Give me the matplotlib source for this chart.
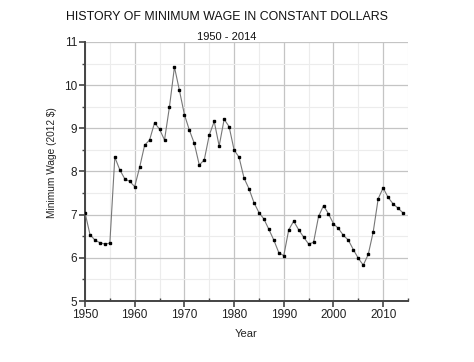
import matplotlib
matplotlib.use("Agg")
import matplotlib.pyplot as plt
from matplotlib.ticker import MultipleLocator

years = list(range(1950, 2015))
wage = [7.05, 6.54, 6.41, 6.35, 6.32, 6.34, 8.33, 8.04, 7.83, 7.77,
        7.65, 8.10, 8.61, 8.73, 9.13, 8.98, 8.73, 9.50, 10.42, 9.88,
        9.32, 8.96, 8.65, 8.15, 8.27, 8.84, 9.16, 8.59, 9.21, 9.04,
        8.50, 8.33, 7.85, 7.60, 7.28, 7.05, 6.90, 6.66, 6.41, 6.12,
        6.05, 6.65, 6.85, 6.65, 6.48, 6.32, 6.36, 6.96, 7.21, 7.02,
        6.79, 6.68, 6.52, 6.41, 6.19, 5.99, 5.83, 6.08, 6.60, 7.37,
        7.62, 7.40, 7.25, 7.15, 7.04]

title = "HISTORY OF MINIMUM WAGE IN CONSTANT DOLLARS"
subtitle = "1950 - 2014"
xlabel = "Year"
ylabel = "Minimum Wage (2012 $)"

plt.rcParams['font.family'] = ['Liberation Sans', 'DejaVu Sans']

fig = plt.figure(figsize=(4.74, 3.62), dpi=100)
ax = fig.add_axes([85/474, 1-301/362, (408-85)/474, (301-42)/362])

ax.plot(years, wage, color='#777777', lw=0.8, marker='s', ms=2.0,
        mfc='black', mec='black', zorder=3)

ax.set_xlim(1950, 2015)
ax.set_ylim(5, 11)
ax.xaxis.set_major_locator(MultipleLocator(10))
ax.xaxis.set_minor_locator(MultipleLocator(5))
ax.yaxis.set_major_locator(MultipleLocator(1))
ax.yaxis.set_minor_locator(MultipleLocator(0.5))

ax.grid(which='major', color='#c4c4c4', lw=0.9)
ax.grid(which='minor', color='#ececec', lw=0.8)
ax.set_axisbelow(True)

for s in ['top', 'right']:
    ax.spines[s].set_visible(False)
for s in ['left', 'bottom']:
    ax.spines[s].set_color('#444444')
    ax.spines[s].set_linewidth(1.4)

ax.tick_params(which='major', direction='out', length=4, width=1.2,
               color='#444444', labelsize=8.5, labelcolor='#222222', pad=1.5)
ax.tick_params(axis='x', which='minor', direction='in', length=2.5, width=1, color='#444444')
ax.tick_params(axis='y', which='minor', direction='out', length=2.5, width=1, color='#444444')

ax.set_xlabel(xlabel, fontsize=8, color='#222222', labelpad=6)
ax.set_ylabel(ylabel, fontsize=7.3, color='#222222')
ax.yaxis.set_label_coords(-0.087, 0.533)

fig.text(227/474, 1-17/362, title, ha='center', va='center', fontsize=8.9, color='#111111')
fig.text(227/474, 1-37/362, subtitle, ha='center', va='center', fontsize=8, color='#111111')

fig.savefig('out.png', dpi=100)
